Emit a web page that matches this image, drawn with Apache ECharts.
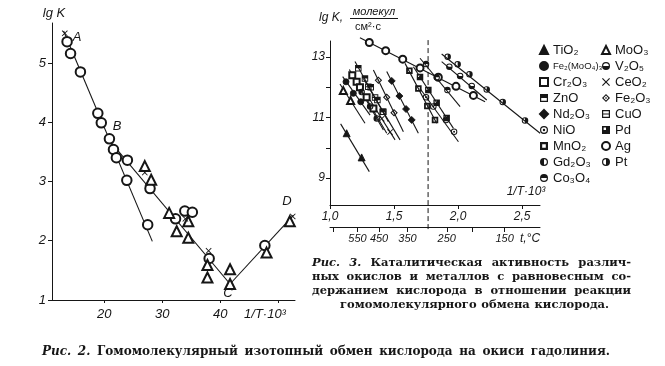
<!DOCTYPE html>
<html><head><meta charset="utf-8">
<script src="https://cdn.jsdelivr.net/npm/echarts@6/dist/echarts.min.js"></script>
<style>html,body{margin:0;padding:0;background:#fff}#c{width:665px;height:366px}</style>
</head><body><div id="c"></div>
<script>
// ---------- Fig. 2 (left panel) ----------
const fig2XTicks = [20, 30, 40, 50];
const fig2XLabels = [20, 30, 40];
const fig2YTicks = [1, 2, 3, 4, 5];
const fig2Circles = [[13.6,5.36],[14.2,5.16],[15.9,4.85],[18.9,4.15],[19.5,3.99],[20.9,3.72],[21.6,3.54],[22.1,3.40],[23.9,3.02],[24.0,3.36],[27.9,2.88],[27.5,2.27],[32.3,2.37],[33.9,2.50],[35.2,2.48],[38.1,1.70],[47.7,1.92]];
const fig2Triangles = [[27.0,3.26],[28.1,3.03],[31.2,2.47],[32.5,2.16],[34.5,2.33],[34.5,2.05],[37.8,1.59],[37.8,1.38],[41.7,1.52],[41.7,1.27],[48.0,1.80],[52.0,2.33]];
const fig2Crosses = [[13.2,5.50],[27.0,3.15],[34.0,2.37],[38.0,1.83],[52.5,2.41]];
const fig2LineAB = [[13.0,5.54],[28.3,1.99]];
const fig2LineBC = [[21.1,3.67],[41.7,1.27]];
const fig2LineCD = [[41.7,1.27],[52.6,2.43]];

// ---------- Fig. 3 (right panel) ----------
const fig3XTicks = [1.0, 1.5, 2.0, 2.5];
const fig3YTicks = [9, 10, 11, 12, 13];
const fig3YLabels = [9, 11, 13];
const tempTicks = [700, 550, 450, 350, 250, 200, 150];
const tempLabels = [550, 450, 350, 250, 150];
const dashedAt = 1.766;
const dashedSpan = [13.56, 7.25];

const tio2Line=[[1.083,10.79],[1.307,9.21]], tio2Pts=[[1.130,10.48],[1.247,9.68]];
const moo3Line=[[1.078,12.11],[1.273,10.81]], moo3Pts=[[1.104,11.89],[1.161,11.56]];
const femoLine=[[1.099,12.35],[1.313,11.08]], femoPts=[[1.125,12.18],[1.182,11.80],[1.240,11.52]];
const cr2o3Line=[[1.151,12.59],[1.443,10.48]], cr2o3Pts=[[1.174,12.40],[1.208,12.18],[1.234,12.00],[1.286,11.67],[1.339,11.30]];
const znoLine=[[1.195,12.85],[1.456,10.86]], znoPts=[[1.221,12.63],[1.273,12.29],[1.318,12.00],[1.370,11.58],[1.411,11.19]];
const ceo2Line=[[1.313,11.58],[1.508,10.26]], ceo2Pts=[[1.404,10.96],[1.469,10.52]];
const nd2o3Line=[[1.443,12.52],[1.690,10.48]], nd2o3Pts=[[1.482,12.21],[1.542,11.71],[1.594,11.28],[1.638,10.92]];
const fe2o3Line=[[1.339,12.57],[1.573,10.53]], fe2o3Pts=[[1.378,12.23],[1.443,11.67],[1.500,11.16]];
const cuoLine=[[1.260,12.29],[1.547,10.26]], cuoPts=[[1.299,12.02],[1.352,11.66],[1.417,11.19]];
const gd2o3Line=[[1.208,12.13],[1.417,10.59]], gd2o3Pts=[[1.247,11.84],[1.313,11.36],[1.365,10.97]];
const mno2Line=[[1.586,12.79],[1.833,10.81]], mno2Pts=[[1.620,12.55],[1.690,11.96],[1.760,11.38],[1.820,10.92]];
const pdLine=[[1.651,12.68],[1.964,10.64]], pdPts=[[1.703,12.34],[1.768,11.91],[1.833,11.49],[1.911,10.98]];
const nioLine=[[1.703,11.96],[2.003,10.20]], nioPts=[[1.750,11.67],[1.807,11.36],[1.906,10.92],[1.969,10.53]];
const agLine=[[1.234,13.64],[2.211,11.52]], agPts=[[1.307,13.48],[1.435,13.21],[1.568,12.93],[1.703,12.64],[1.846,12.33],[1.984,12.03],[2.120,11.73]];
const v2o5Line=[[1.872,12.85],[2.224,11.58]], v2o5Pts=[[1.932,12.68],[2.016,12.37],[2.107,12.04]];
const ptLine=[[1.872,13.10],[2.641,10.48]], ptPts=[[1.919,13.01],[1.997,12.76],[2.089,12.43],[2.224,11.93],[2.349,11.51],[2.523,10.90]];
const co3o4Line=[[1.703,12.96],[2.016,11.36]], co3o4Pts=[[1.750,12.77],[1.833,12.33],[1.917,11.91]];

// ---------- symbol shapes (styles) ----------
const ringC = 'M10 0A10 10 0 1 1 10 20A10 10 0 1 1 10 0Z M10 3A7 7 0 1 0 10 17A7 7 0 1 0 10 3Z';
const ringS = 'M0 0L20 0L20 20L0 20Z M3 3L3 17L17 17L17 3Z';
const SYM = {
  topHalfC: 'path://' + ringC + ' M3 10A7 7 0 0 1 17 10Z',
  botHalfC: 'path://' + ringC + ' M17 10A7 7 0 0 1 3 10Z',
  leftHalfC: 'path://' + ringC + ' M10 17A7 7 0 0 1 10 3Z',
  rightHalfC: 'path://' + ringC + ' M10 3A7 7 0 0 1 10 17Z',
  dotC: 'path://' + ringC + ' M10 7A3 3 0 1 1 10 13A3 3 0 1 1 10 7Z',
  halfS: 'path://' + ringS + ' M3 3L17 3L17 10L3 10Z',
  barS: 'path://' + ringS + ' M3 8.5L17 8.5L17 11.5L3 11.5Z',
  thickS: 'path://M0 0L20 0L20 20L0 20Z M5.5 5.5L5.5 14.5L14.5 14.5L14.5 5.5Z',
  pdS: 'path://M0 0L20 0L20 20L0 20Z M4 4L4 10L10 10L10 4Z',
  ringD: 'path://M10 0L20 10L10 20L0 10Z M10 4L4 10L10 16L16 10Z M10 7.5L12.5 10L10 12.5L7.5 10Z',
  cross: 'path://M0 2L2 0L10 8L18 0L20 2L12 10L20 18L18 20L10 12L2 20L0 18L8 10Z'
};

const materials = [
  {name:'TiO₂', line:tio2Line, pts:tio2Pts, symbol:'triangle', size:7},
  {name:'MoO₃', line:moo3Line, pts:moo3Pts, symbol:'emptyTriangle', size:7},
  {name:'Fe₂(MoO₄)₃', line:femoLine, pts:femoPts, symbol:'circle', size:6},
  {name:'V₂O₅', line:v2o5Line, pts:v2o5Pts, symbol:SYM.botHalfC, size:6.5},
  {name:'Cr₂O₃', line:cr2o3Line, pts:cr2o3Pts, symbol:'emptyRect', size:6},
  {name:'CeO₂', line:ceo2Line, pts:ceo2Pts, symbol:SYM.cross, size:6},
  {name:'ZnO', line:znoLine, pts:znoPts, symbol:SYM.halfS, size:6.5},
  {name:'Fe₂O₃', line:fe2o3Line, pts:fe2o3Pts, symbol:SYM.ringD, size:7.5},
  {name:'Nd₂O₃', line:nd2o3Line, pts:nd2o3Pts, symbol:'diamond', size:7},
  {name:'CuO', line:cuoLine, pts:cuoPts, symbol:SYM.barS, size:6.5},
  {name:'NiO', line:nioLine, pts:nioPts, symbol:SYM.dotC, size:6.5},
  {name:'Pd', line:pdLine, pts:pdPts, symbol:SYM.pdS, size:6.5},
  {name:'MnO₂', line:mno2Line, pts:mno2Pts, symbol:SYM.thickS, size:6.5},
  {name:'Ag', line:agLine, pts:agPts, symbol:'emptyCircle', size:7},
  {name:'Gd₂O₃', line:gd2o3Line, pts:gd2o3Pts, symbol:SYM.leftHalfC, size:6.5},
  {name:'Pt', line:ptLine, pts:ptPts, symbol:SYM.rightHalfC, size:6.5},
  {name:'Co₃O₄', line:co3o4Line, pts:co3o4Pts, symbol:SYM.topHalfC, size:6.5}
];
const legendCol1 = ['TiO₂','Fe₂(MoO₄)₃','Cr₂O₃','ZnO','Nd₂O₃','NiO','MnO₂','Gd₂O₃','Co₃O₄'];
const legendCol2 = ['MoO₃','V₂O₅','CeO₂','Fe₂O₃','CuO','Pd','Ag','Pt'];

const INK = '#161616';
const tickFont = {fontStyle:'italic', fontFamily:'Liberation Sans', color:INK};
const toInvT = t => 1000 / (t + 273);

function lineSeries(data, xi, yi, extra) {
  return Object.assign({type:'line', xAxisIndex:xi, yAxisIndex:yi, data, symbol:'none', showSymbol:false,
    lineStyle:{color:INK, width:1.1}, clip:false, silent:true, z:2, animation:false}, extra || {});
}
function scatterSeries(name, data, symbol, size, xi, yi) {
  const isPath = typeof symbol === 'string' && symbol.indexOf('path://') === 0;
  return {type:'scatter', name, xAxisIndex:xi, yAxisIndex:yi, data, symbol, symbolSize:size,
    itemStyle:{color:INK, borderColor:INK, borderWidth:isPath ? 0 : 0.9, opacity:1}, clip:false, silent:true, z:3, animation:false};
}

const series = [
  lineSeries(fig2LineAB, 0, 0), lineSeries(fig2LineBC, 0, 0), lineSeries(fig2LineCD, 0, 0),
  scatterSeries('c2', fig2Circles, 'emptyCircle', 9.5, 0, 0),
  scatterSeries('t2', fig2Triangles, 'emptyTriangle', 10, 0, 0),
  scatterSeries('x2', fig2Crosses, SYM.cross, 6, 0, 0),
  lineSeries([[dashedAt, dashedSpan[0]],[dashedAt, dashedSpan[1]]], 1, 1, {lineStyle:{color:INK, width:1, type:[5,3]}})
];
materials.forEach(m => {
  series.push(lineSeries(m.line, 1, 1));
  series.push(scatterSeries(m.name, m.pts, m.symbol, m.size, 1, 1));
});

const legendText = {fontSize:13, lineHeight:14, fontFamily:'Liberation Sans', color:INK};
const legendBase = {orient:'vertical', top:43, itemWidth:8, itemHeight:8, itemGap:2, padding:0, selectedMode:false, textStyle:legendText};
const legendItems = names => names.map(n => n === 'Fe₂(MoO₄)₃' ? {name:n, textStyle:{fontSize:9.5}} : {name:n});

// ---------- caption layout helper (justified words) ----------
const measureCtx = document.createElement('canvas').getContext('2d');
function justify(words, x0, x1, y, font, italicN) {
  const fonts = words.map((w, i) => (i < italicN ? 'italic ' : '') + font);
  const widths = words.map((w, i) => { measureCtx.font = fonts[i]; return measureCtx.measureText(w).width; });
  const total = widths.reduce((a, b) => a + b, 0);
  const gap = words.length > 1 ? (x1 - x0 - total) / (words.length - 1) : 0;
  let x = x0; const out = [];
  words.forEach((w, i) => {
    out.push({type:'text', x, y, style:{text:w, font:fonts[i], fill:INK, align:'left', verticalAlign:'middle'}});
    x += widths[i] + gap;
  });
  return out;
}
const capFont3 = 'bold 11.5px "DejaVu Serif"';
const capFont2 = 'bold 12px "DejaVu Serif"';
const labelFont = 'italic 13px "Liberation Sans"';
function txt(text, x, y, font, align) {
  return {type:'text', x, y, style:{text, font:font || labelFont, fill:INK, align:align || 'center', verticalAlign:'middle'}};
}

const graphic = [].concat(
  [txt('lg K', 54, 13), txt('A', 77, 37), txt('B', 117, 126), txt('C', 228, 293), txt('D', 287, 201),
   txt('1/T·10³', 265, 314),
   txt('1/T·10³', 526, 192, 'italic 12px "Liberation Sans"'),
   txt('t,°C', 530, 239, 'italic 12px "Liberation Sans"'),
   txt('lg K,', 331, 18, 'italic 12px "Liberation Sans"'),
   txt('молекул', 374, 12, 'italic 11px "Liberation Sans"'),
   {type:'line', shape:{x1:350, y1:18.5, x2:398, y2:18.5}, style:{stroke:INK, lineWidth:1}},
   txt('см²·с', 368, 27, '11px "Liberation Sans"')],
  justify(['Рис.','3.','Каталитическая','активность','различ-'], 312, 631, 263, capFont3, 2),
  justify(['ных','окислов','и','металлов','с','равновесным','со-'], 312, 631, 277, capFont3, 0),
  justify(['держанием','кислорода','в','отношении','реакции'], 312, 631, 291, capFont3, 0),
  justify(['гомомолекулярного','обмена','кислорода.'], 340, 609, 305, capFont3, 0),
  justify(['Рис.','2.','Гомомолекулярный','изотопный','обмен','кислорода','на','окиси','гадолиния.'], 42, 610, 352, capFont2, 2)
);

const axisLineStyle = {show:true, onZero:false, lineStyle:{color:INK, width:1}};
const option = {
  backgroundColor:'#fff',
  animation:false,
  grid:[
    {left:52, top:23, width:243, height:277},
    {left:330, top:41, width:210, height:164}
  ],
  xAxis:[
    {gridIndex:0, type:'value', min:11, max:52.9, axisLine:axisLineStyle, splitLine:{show:false},
     axisTick:{customValues:fig2XTicks, length:3, lineStyle:{color:INK}},
     axisLabel:Object.assign({customValues:fig2XLabels, fontSize:13, margin:8}, tickFont)},
    {gridIndex:1, type:'value', min:1, max:2.64, axisLine:axisLineStyle, splitLine:{show:false},
     axisTick:{customValues:fig3XTicks, length:4, lineStyle:{color:INK}},
     axisLabel:Object.assign({customValues:fig3XTicks, fontSize:12, margin:6, formatter:v => v.toFixed(1).replace('.', ',')}, tickFont)},
    {gridIndex:1, type:'value', position:'bottom', offset:22, min:1, max:2.64, axisLine:axisLineStyle, splitLine:{show:false},
     axisTick:{customValues:tempTicks.map(toInvT), length:5, lineStyle:{color:INK}},
     axisLabel:Object.assign({customValues:tempLabels.map(toInvT), fontSize:11, margin:6, formatter:v => String(Math.round(1000 / v - 273))}, tickFont)}
  ],
  yAxis:[
    {gridIndex:0, type:'value', min:1, max:5.675, axisLine:axisLineStyle, splitLine:{show:false},
     axisTick:{customValues:fig2YTicks, length:4, lineStyle:{color:INK}},
     axisLabel:Object.assign({customValues:fig2YTicks, fontSize:13, margin:6}, tickFont)},
    {gridIndex:1, type:'value', min:8.107, max:13.53, axisLine:axisLineStyle, splitLine:{show:false},
     axisTick:{customValues:fig3YTicks, length:4, lineStyle:{color:INK}},
     axisLabel:Object.assign({customValues:fig3YLabels, fontSize:12, margin:5}, tickFont)}
  ],
  legend:[
    Object.assign({left:539, data:legendItems(legendCol1)}, legendBase),
    Object.assign({left:601, data:legendItems(legendCol2)}, legendBase)
  ],
  series,
  graphic
};
const chart = echarts.init(document.getElementById('c'), null, {renderer:'canvas', width:665, height:366});
chart.setOption(option);
</script>
</body></html>
